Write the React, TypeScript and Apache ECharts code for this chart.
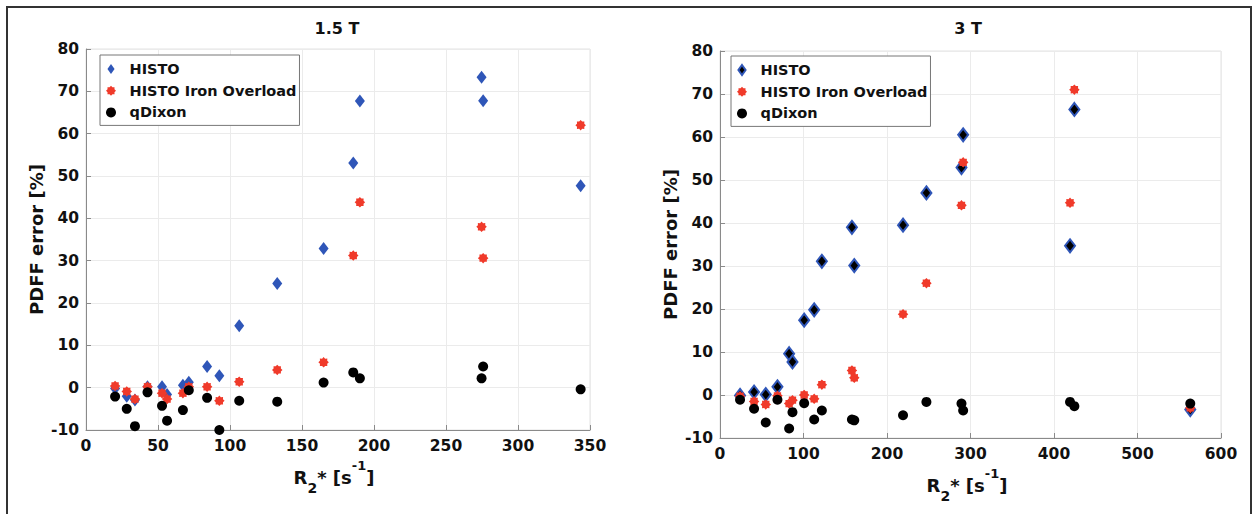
import React, { useEffect, useRef } from 'react';
import * as echarts from 'echarts';

// ---- 1.5 T panel ----
const r2_15T = [20.2, 28.3, 34, 42.7, 52.8, 56.3, 67.3, 71.4, 84.1, 92.6, 106.4, 132.8, 165, 185.6, 190.2, 274.7, 275.8, 343.5];
const histo_15T = [-0.2, -2.0, -2.9, 0.2, 0.2, -1.6, 0.6, 1.3, 5.0, 2.8, 14.6, 24.6, 32.9, 53.1, 67.7, 73.3, 67.8, 47.7];
const ironOverload_15T = [0.4, -0.9, -2.7, 0.2, -1.3, -2.7, -1.3, 0.2, 0.2, -3.1, 1.4, 4.2, 6.0, 31.2, 43.8, 38.0, 30.6, 62.0];
const qdixon_15T = [-2.1, -5.0, -9.1, -1.1, -4.3, -7.8, -5.3, -0.6, -2.4, -10.0, -3.1, -3.3, 1.2, 3.6, 2.2, 2.2, 5.0, -0.4];

// ---- 3 T panel ----
const r2_3T = [24, 40.8, 54.8, 68.8, 82.8, 86.8, 100.8, 112.8, 122, 158, 160.8, 219.2, 247.2, 289.2, 291.2, 419.2, 424.4, 563.2];
const histo_3T = [-0.1, 0.7, 0.1, 1.9, 9.6, 7.7, 17.4, 19.8, 31.1, 39.0, 30.1, 39.5, 47.0, 52.9, 60.5, 34.7, 66.4, -3.4];
const ironOverload_3T = [-0.3, -1.5, -2.2, -0.2, -2.0, -1.2, 0.0, -0.9, 2.4, 5.7, 4.0, 18.8, 26.0, 44.1, 54.1, 44.7, 71.0, -3.0];
const qdixon_3T = [-1.1, -3.2, -6.4, -1.1, -7.8, -4.0, -1.9, -5.7, -3.6, -5.7, -5.9, -4.7, -1.6, -2.0, -3.6, -1.6, -2.6, -2.0];

const seriesNames = ['HISTO', 'HISTO Iron Overload', 'qDixon'];
const panelTitles = ['1.5 T', '3 T'];
const yTitle = 'PDFF error [%]';

const BLUE = '#2F56B8';
const RED = '#F03A2A';
const BLACK = '#000000';
const FONT = 'DejaVu Sans';

const STAR = 'path://M20 10 L16.93 12.87 L17.07 17.07 L12.87 16.93 L10 20 L7.13 16.93 L2.93 17.07 L3.07 12.87 L0 10 L3.07 7.13 L2.93 2.93 L7.13 3.07 L10 0 L12.87 3.07 L17.07 2.93 L16.93 7.13 Z';
const DIAMOND = 'path://M5 0 L10 7 L5 14 L0 7 Z';

const pairs = (xs: number[], ys: number[]) => xs.map((x, i) => [x, ys[i]]);

export default function App() {
  const ref = useRef<HTMLDivElement>(null);

  useEffect(() => {
    if (!ref.current) return;
    const chart = echarts.init(ref.current, null, { renderer: 'svg' });

    const labelStyle = { color: '#111', fontFamily: FONT, fontWeight: 'bold' as const, fontSize: 15.5 };
    const axisLineStyle = { color: '#8a8a8a', width: 1 };
    const splitStyle = { color: '#ebebeb', width: 1 };

    const mkX = (gi: number, max: number, interval: number) => ({
      type: 'value', gridIndex: gi, min: 0, max, interval,
      axisLine: { show: true, onZero: false, lineStyle: axisLineStyle },
      axisTick: { show: true, inside: true, length: 5, lineStyle: axisLineStyle },
      axisLabel: { ...labelStyle, margin: 8 },
      splitLine: { show: true, lineStyle: splitStyle },
    });
    const mkY = (gi: number) => ({
      type: 'value', gridIndex: gi, min: -10, max: 80, interval: 10,
      axisLine: { show: true, onZero: false, lineStyle: axisLineStyle },
      axisTick: { show: true, inside: true, length: 5, lineStyle: axisLineStyle },
      axisLabel: { ...labelStyle, margin: 7 },
      splitLine: { show: true, lineStyle: splitStyle },
    });

    const legendText = { color: '#111', fontFamily: FONT, fontWeight: 'bold' as const, fontSize: 14.5, lineHeight: 16 };
    const mkLegend = (left: number, top: number, suffix: string, diamondStyle: any) => ({
      left, top, orient: 'vertical', selectedMode: false,
      backgroundColor: '#fff', borderColor: '#777', borderWidth: 1,
      padding: [6, 3, 5, 6], itemGap: 5.7, itemWidth: 27, itemHeight: 10,
      textStyle: legendText,
      formatter: (n: string) => n.replace(suffix, ''),
      data: [
        { name: seriesNames[0] + suffix, icon: DIAMOND, itemStyle: diamondStyle },
        { name: seriesNames[1] + suffix, icon: STAR, itemStyle: { color: RED, opacity: 1 } },
        { name: seriesNames[2] + suffix, icon: 'circle', itemStyle: { color: BLACK, opacity: 1 } },
      ],
    });

    const S3 = ' (3 T)';
    const leftDiamond = { color: BLUE, opacity: 1 };
    const rightDiamond = { color: BLACK, borderColor: BLUE, borderWidth: 2, opacity: 1 };

    const xTitleRich = {
      a: { fontFamily: FONT, fontWeight: 'bold', fontSize: 18, lineHeight: 36, verticalAlign: 'middle', fill: '#111' },
      b: { fontFamily: FONT, fontWeight: 'bold', fontSize: 14, lineHeight: 14, verticalAlign: 'bottom', fill: '#111' },
      c: { fontFamily: FONT, fontWeight: 'bold', fontSize: 13, lineHeight: 13, verticalAlign: 'top', fill: '#111' },
    };
    const xTitleText = '{a|R}{b|2}{a|* [s}{c|-1}{a|]}';

    const titleStyle = { fontFamily: FONT, fontWeight: 'bold', fontSize: 16, fill: '#111', align: 'center', verticalAlign: 'middle' };
    const yTitleStyle = { text: yTitle, fontFamily: FONT, fontWeight: 'bold', fontSize: 18, fill: '#111', align: 'center', verticalAlign: 'middle' };

    const option: any = {
      animation: false,
      backgroundColor: '#ffffff',
      grid: [
        { left: 86, top: 49, width: 504, height: 381, show: true, borderColor: '#e2e2e2', borderWidth: 1 },
        { left: 720, top: 51, width: 501, height: 387, show: true, borderColor: '#e2e2e2', borderWidth: 1 },
      ],
      xAxis: [mkX(0, 350, 50), mkX(1, 600, 100)],
      yAxis: [mkY(0), mkY(1)],
      legend: [
        mkLegend(100, 55, '', leftDiamond),
        mkLegend(731, 56, S3, rightDiamond),
      ],
      graphic: [
        { type: 'rect', shape: { x: 7, y: 7, width: 1244, height: 530 }, style: { fill: 'none', stroke: '#333', lineWidth: 2 }, silent: true },
        { type: 'text', x: 337, y: 28, style: { ...titleStyle, text: panelTitles[0] } },
        { type: 'text', x: 968, y: 28, style: { ...titleStyle, text: panelTitles[1] } },
        { type: 'text', x: 36, y: 239.5, rotation: Math.PI / 2, style: yTitleStyle },
        { type: 'text', x: 670, y: 244.5, rotation: Math.PI / 2, style: yTitleStyle },
        { type: 'text', x: 334, y: 477, style: { text: xTitleText, rich: xTitleRich, align: 'center', verticalAlign: 'middle' } },
        { type: 'text', x: 967, y: 485, style: { text: xTitleText, rich: xTitleRich, align: 'center', verticalAlign: 'middle' } },
      ],
      series: [
        { name: seriesNames[0], type: 'scatter', xAxisIndex: 0, yAxisIndex: 0, symbol: DIAMOND, symbolSize: [10, 13], itemStyle: leftDiamond, data: pairs(r2_15T, histo_15T), z: 2 },
        { name: seriesNames[1], type: 'scatter', xAxisIndex: 0, yAxisIndex: 0, symbol: STAR, symbolSize: 10.5, itemStyle: { color: RED, opacity: 1 }, data: pairs(r2_15T, ironOverload_15T), z: 3 },
        { name: seriesNames[2], type: 'scatter', xAxisIndex: 0, yAxisIndex: 0, symbol: 'circle', symbolSize: 10, itemStyle: { color: BLACK, opacity: 1 }, data: pairs(r2_15T, qdixon_15T), z: 4 },
        { name: seriesNames[0] + S3, type: 'scatter', xAxisIndex: 1, yAxisIndex: 1, symbol: DIAMOND, symbolSize: [10, 13], itemStyle: rightDiamond, data: pairs(r2_3T, histo_3T), z: 2 },
        { name: seriesNames[1] + S3, type: 'scatter', xAxisIndex: 1, yAxisIndex: 1, symbol: STAR, symbolSize: 10.5, itemStyle: { color: RED, opacity: 1 }, data: pairs(r2_3T, ironOverload_3T), z: 3 },
        { name: seriesNames[2] + S3, type: 'scatter', xAxisIndex: 1, yAxisIndex: 1, symbol: 'circle', symbolSize: 10, itemStyle: { color: BLACK, opacity: 1 }, data: pairs(r2_3T, qdixon_3T), z: 4 },
      ],
    };

    chart.setOption(option);
    return () => chart.dispose();
  }, []);

  return <div ref={ref} style={{ position: 'absolute', left: 0, top: 0, width: 1255, height: 514 }} />;
}
